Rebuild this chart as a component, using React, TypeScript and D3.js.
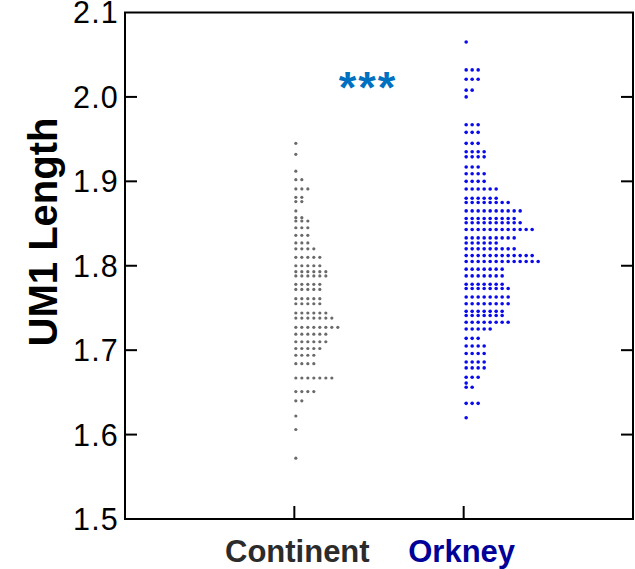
import React, { useEffect, useRef } from "react";
import * as d3 from "d3";

const categories = ["Continent", "Orkney"];
const yTicks = [1.5, 1.6, 1.7, 1.8, 1.9, 2.0, 2.1];

const continentValues = [
  1.945, 1.932, 1.912, 1.902, 1.891, 1.881, 1.876, 1.865, 1.857, 1.853, 1.845, 1.836,
  1.827, 1.82, 1.81, 1.8, 1.793, 1.788, 1.778, 1.772, 1.761, 1.755, 1.744, 1.738,
  1.727, 1.719, 1.71, 1.702, 1.694, 1.684, 1.667, 1.651, 1.64, 1.622, 1.606, 1.572,
];
const continentCounts = [
  1, 1, 1, 2, 3, 2, 2, 1, 2, 3, 3, 3,
  3, 4, 5, 5, 6, 6, 5, 5, 5, 5, 6, 7,
  8, 6, 6, 5, 4, 4, 7, 4, 2, 1, 1, 1,
];

const orkneyValues = [
  2.065, 2.032, 2.021, 2.008, 2.0, 1.967, 1.958, 1.945, 1.935, 1.929, 1.917, 1.909,
  1.9, 1.891, 1.88, 1.875, 1.865, 1.856, 1.851, 1.843, 1.833, 1.827, 1.82, 1.812,
  1.805, 1.796, 1.788, 1.778, 1.773, 1.763, 1.755, 1.746, 1.741, 1.733, 1.725, 1.714,
  1.705, 1.696, 1.686, 1.679, 1.668, 1.661, 1.656, 1.637, 1.62,
];
const orkneyCounts = [
  1, 3, 3, 2, 1, 3, 3, 3, 4, 4, 3, 4,
  4, 6, 6, 8, 10, 9, 10, 12, 9, 6, 9, 12,
  13, 7, 7, 7, 8, 8, 8, 7, 7, 8, 5, 3,
  4, 4, 4, 4, 3, 1, 2, 3, 1,
];

const significance = "***";

const W = 635;
const H = 569;
const left = 125;
const right = 633;
const top = 12.5;
const bottom = 519;

export default function App() {
  const ref = useRef<SVGSVGElement>(null);

  useEffect(() => {
    const svg = d3.select(ref.current);
    svg.selectAll("*").remove();

    const x = d3.scaleLinear().domain([0, 3]).range([left, right]);
    const y = d3.scaleLinear().domain([1.5, 2.1]).range([bottom, top]);

    const g = svg.append("g");

    // frame
    g.append("rect")
      .attr("x", left)
      .attr("y", top)
      .attr("width", right - left)
      .attr("height", bottom - top)
      .attr("fill", "none")
      .attr("stroke", "#000")
      .attr("stroke-width", 2);

    // y ticks (left & right, inward)
    yTicks.forEach((t) => {
      if (t > 1.5 && t < 2.1) {
        g.append("line")
          .attr("x1", left).attr("x2", left + 12)
          .attr("y1", y(t)).attr("y2", y(t))
          .attr("stroke", "#000").attr("stroke-width", 2);
        g.append("line")
          .attr("x1", right).attr("x2", right - 12)
          .attr("y1", y(t)).attr("y2", y(t))
          .attr("stroke", "#000").attr("stroke-width", 2);
      }
      g.append("text")
        .attr("x", left - 6)
        .attr("y", y(t))
        .attr("dy", "0.36em")
        .attr("text-anchor", "end")
        .attr("font-family", "Liberation Sans, Arial, sans-serif")
        .attr("font-size", 30.5)
        .attr("letter-spacing", 1.2)
        .attr("fill", "#000")
        .text(d3.format(".1f")(t));
    });

    // x ticks
    [1, 2].forEach((c) => {
      g.append("line")
        .attr("x1", x(c)).attr("x2", x(c))
        .attr("y1", bottom).attr("y2", bottom - 13)
        .attr("stroke", "#000").attr("stroke-width", 2);
    });

    // category labels
    const catColors = ["#2b2b2b", "#000099"];
    const catShift = [3, -2];
    categories.forEach((c, i) => {
      g.append("text")
        .attr("x", x(i + 1) + catShift[i])
        .attr("y", 562)
        .attr("text-anchor", "middle")
        .attr("font-family", "Liberation Sans, Arial, sans-serif")
        .attr("font-weight", "bold")
        .attr("font-size", 31)
        .attr("fill", catColors[i])
        .text(c);
    });

    // y title
    g.append("text")
      .attr("transform", `translate(57, 232) rotate(-90)`)
      .attr("text-anchor", "middle")
      .attr("font-family", "Liberation Sans, Arial, sans-serif")
      .attr("font-weight", "bold")
      .attr("font-size", 40)
      .attr("fill", "#000")
      .text("UM1 Length");

    // dots
    const groups = [
      { vals: continentValues, counts: continentCounts, color: "#6a6a6a", r: 1.6, off: 1.5 },
      { vals: orkneyValues, counts: orkneyCounts, color: "#0a0af0", r: 1.8, off: 2.5 },
    ];
    groups.forEach((grp, gi) => {
      const pts: { cx: number; cy: number }[] = [];
      grp.vals.forEach((v, k) => {
        for (let i = 0; i < grp.counts[k]; i++) {
          pts.push({ cx: x(gi + 1) + grp.off + i * 6, cy: y(v) });
        }
      });
      g.append("g")
        .selectAll("circle")
        .data(pts)
        .join("circle")
        .attr("cx", (d) => d.cx)
        .attr("cy", (d) => d.cy)
        .attr("r", grp.r)
        .attr("fill", grp.color);
    });

    // significance
    g.append("text")
      .attr("x", x(1.5) - 11)
      .attr("y", 103)
      .attr("text-anchor", "middle")
      .attr("font-family", "Liberation Sans, Arial, sans-serif")
      .attr("font-weight", "bold")
      .attr("font-size", 45)
      .attr("letter-spacing", 2)
      .attr("fill", "#0070c0")
      .text(significance);
  }, []);

  return (
    <svg
      ref={ref}
      width={W}
      height={H}
      style={{ position: "fixed", left: 0, top: 0, background: "#fff" }}
    />
  );
}
